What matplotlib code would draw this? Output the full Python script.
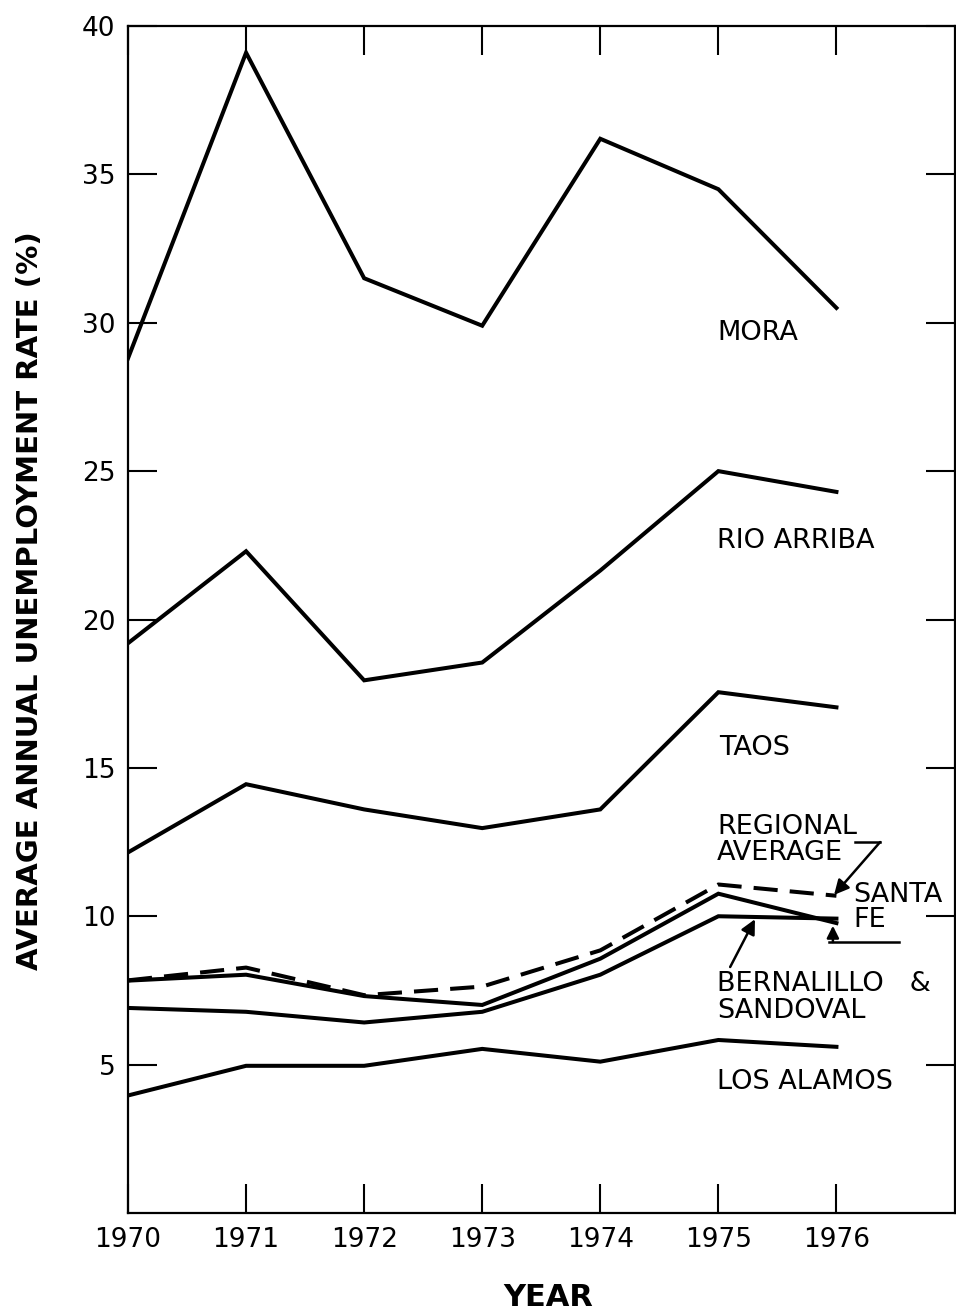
import matplotlib
matplotlib.use("Agg")
import matplotlib.pyplot as plt

years = [1970, 1971, 1972, 1973, 1974, 1975, 1976]
mora = [28.8, 39.1, 31.5, 29.9, 36.2, 34.5, 30.5]
rio_arriba = [19.2, 22.3, 17.95, 18.55, 21.65, 25.0, 24.3]
taos = [12.15, 14.45, 13.6, 12.97, 13.6, 17.55, 17.04]
regional_avg = [7.84, 8.27, 7.34, 7.63, 8.85, 11.07, 10.69]
santa_fe = [7.83, 8.03, 7.31, 7.01, 8.57, 10.76, 9.77]
bernalillo_sandoval = [6.91, 6.78, 6.42, 6.78, 8.03, 10.0, 9.92]
los_alamos = [3.96, 4.96, 4.96, 5.53, 5.1, 5.83, 5.6]

yticks = [5, 10, 15, 20, 25, 30, 35, 40]
xlabel = "YEAR"
ylabel = "AVERAGE ANNUAL UNEMPLOYMENT RATE (%)"

plt.rcParams['font.family'] = ['DejaVu Sans']

fig = plt.figure(figsize=(9.56, 13.15), dpi=100)
ax = fig.add_axes([128/956, 1 - 1213/1315, (954.5 - 128)/956, (1213 - 26)/1315])

lw = 2.9
for s in [mora, rio_arriba, taos, santa_fe, bernalillo_sandoval, los_alamos]:
    ax.plot(years, s, color='black', lw=lw, solid_joinstyle='miter')
ax.plot(years, regional_avg, color='black', lw=lw, dashes=(6, 3))

ax.set_xlim(1970, 1977)
ax.set_ylim(0, 40)
ax.set_xticks(years)
ax.set_xticklabels([str(y) for y in years])
ax.set_yticks(yticks)
ax.set_yticklabels([str(v) for v in yticks])
ax.tick_params(direction='in', length=21, width=1.5, top=True, right=True,
               labelsize=19, colors='black')
ax.tick_params(axis='x', pad=10)
ax.tick_params(axis='y', pad=9)
for sp in ax.spines.values():
    sp.set_linewidth(1.6)

fs = 19.5
def lab(x, y, t):
    ax.text(x, y, t, fontsize=fs, ha='left', va='center')

lab(1974.99, 29.65, "MORA")
lab(1974.99, 22.65, "RIO ARRIBA")
lab(1975.01, 15.67, "TAOS")
lab(1974.99, 13.0, "REGIONAL")
lab(1974.99, 12.13, "AVERAGE")
lab(1976.14, 10.72, "SANTA")
lab(1976.14, 9.87, "FE")
lab(1974.99, 7.72, "BERNALILLO   &")
lab(1974.99, 6.81, "SANDOVAL")
lab(1974.99, 4.41, "LOS ALAMOS")

# Regional average pointer
ax.plot([1976.16, 1976.37], [12.5, 12.5], color='black', lw=1.8)
ax.annotate("", xy=(1975.98, 10.72), xytext=(1976.37, 12.5),
            arrowprops=dict(arrowstyle='-|>', color='black', lw=1.8,
                            mutation_scale=22, shrinkA=0, shrinkB=0))
# Bernalillo pointer
ax.annotate("", xy=(1975.31, 9.9), xytext=(1975.10, 8.29),
            arrowprops=dict(arrowstyle='-|>', color='black', lw=1.8,
                            mutation_scale=22, shrinkA=0, shrinkB=0))
# Santa Fe pointer
ax.plot([1975.94, 1976.53], [9.13, 9.13], color='black', lw=1.8)
ax.annotate("", xy=(1975.97, 9.68), xytext=(1975.97, 9.13),
            arrowprops=dict(arrowstyle='-|>', color='black', lw=1.8,
                            mutation_scale=18, shrinkA=0, shrinkB=0))

fig.text(30/956, 1 - 601/1315, ylabel, rotation=90, fontsize=21,
         fontweight='bold', ha='center', va='center')
fig.text(548/956, 1 - 1297/1315, xlabel, fontsize=22,
         fontweight='bold', ha='center', va='center')

fig.savefig("out.png", dpi=100)
